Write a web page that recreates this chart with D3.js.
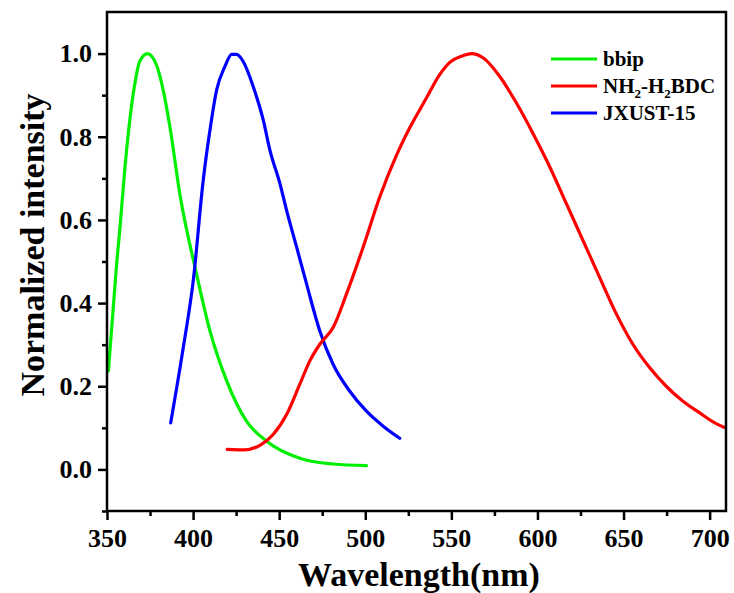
<!DOCTYPE html>
<html>
<head>
<meta charset="utf-8">
<script src="https://cdn.jsdelivr.net/npm/d3@7/dist/d3.min.js"></script>
<style>
  html, body { margin: 0; padding: 0; background: #fff; }
  svg { display: block; }
  text { font-family: "Liberation Serif", "Times New Roman", serif; font-weight: bold; fill: #000; }
</style>
</head>
<body>
<svg id="chart" width="734" height="593"></svg>
<script>
// ---- Data ----
const bbipX = [350.8, 355.6, 357.5, 360.4, 365.3, 369.2, 373.5, 378.8, 383.0, 386.6, 392.4, 402.0, 409.8, 419.5, 431.0, 442.7, 462.0, 481.3, 500.7];
const bbipY = [0.237, 0.494, 0.580, 0.725, 0.905, 0.983, 1.000, 0.972, 0.905, 0.822, 0.660, 0.470, 0.333, 0.213, 0.116, 0.068, 0.027, 0.013, 0.009];

const bdcX = [419.8, 429.1, 438.8, 446.5, 454.3, 462.0, 467.8, 473.6, 481.3, 489.1, 498.8, 508.4, 518.1, 525.9, 535.5, 543.3, 549.1, 556.8, 561.7, 568.4, 578.1, 587.8, 597.4, 607.1, 616.8, 626.4, 636.1, 645.8, 655.4, 665.1, 674.8, 684.5, 694.2, 703.8, 708.7];
const bdcY = [0.048, 0.047, 0.058, 0.084, 0.132, 0.205, 0.261, 0.301, 0.341, 0.422, 0.535, 0.655, 0.755, 0.822, 0.893, 0.950, 0.979, 0.995, 1.000, 0.990, 0.945, 0.881, 0.808, 0.728, 0.639, 0.551, 0.462, 0.374, 0.301, 0.245, 0.200, 0.164, 0.136, 0.110, 0.101];

const jxX = [387.0, 394.3, 400.1, 405.9, 409.8, 413.7, 418.5, 422.4, 425.3, 429.1, 434.9, 440.7, 444.6, 450.4, 454.3, 460.1, 465.9, 473.6, 481.3, 491.0, 500.7, 510.4, 520.0];
const jxY = [0.112, 0.293, 0.454, 0.696, 0.816, 0.913, 0.969, 0.998, 0.998, 0.981, 0.921, 0.841, 0.768, 0.688, 0.623, 0.535, 0.446, 0.333, 0.253, 0.188, 0.140, 0.104, 0.075];

const seriesNames = ["bbip", "NH2-H2BDC", "JXUST-15"];
const seriesColors = ["#00ee00", "#ff0000", "#0000ff"];

const xMajorTicks = [350, 400, 450, 500, 550, 600, 650, 700];
const xMinorTicks = [375, 425, 475, 525, 575, 625, 675];
const yMajorTicks = [0.0, 0.2, 0.4, 0.6, 0.8, 1.0];
const yMinorTicks = [-0.1, 0.1, 0.3, 0.5, 0.7, 0.9];

const xTitle = "Wavelength(nm)";
const yTitle = "Normalized intensity";

// ---- Layout ----
const W = 734, H = 593;
const plot = { left: 107, top: 12, right: 726, bottom: 511 };

const svg = d3.select("#chart");
svg.append("rect").attr("width", W).attr("height", H).attr("fill", "#fff");

const x = d3.scaleLinear().domain([350, 709.5]).range([plot.left, plot.right]);
const y = d3.scaleLinear().domain([-0.1, 1.1]).range([plot.bottom, plot.top]);

// ---- Curves ----
const series = [
  { name: seriesNames[0], color: seriesColors[0], xs: bbipX, ys: bbipY },
  { name: seriesNames[1], color: seriesColors[1], xs: bdcX, ys: bdcY },
  { name: seriesNames[2], color: seriesColors[2], xs: jxX, ys: jxY }
];

const line = d3.line()
  .x(d => x(d[0]))
  .y(d => y(d[1]))
  .curve(d3.curveMonotoneX);

svg.append("clipPath").attr("id", "clip")
  .append("rect").attr("x", plot.left).attr("y", plot.top)
  .attr("width", plot.right - plot.left).attr("height", plot.bottom - plot.top);

const gLines = svg.append("g").attr("clip-path", "url(#clip)");
[series[0], series[2], series[1]].forEach(s => {
  gLines.append("path")
    .datum(s.xs.map((v, i) => [v, s.ys[i]]))
    .attr("fill", "none")
    .attr("stroke", s.color)
    .attr("stroke-width", 3.2)
    .attr("stroke-linejoin", "round")
    .attr("stroke-linecap", "round")
    .attr("d", line);
});

// ---- Axes ----
const axisW = 2.5;
const xAxisMajor = d3.axisBottom(x).tickValues(xMajorTicks).tickSize(9).tickPadding(9).tickFormat(d3.format("d"));
const xAxisMinor = d3.axisBottom(x).tickValues(xMinorTicks).tickSize(5).tickFormat("");
const yAxisMajor = d3.axisLeft(y).tickValues(yMajorTicks).tickSize(9).tickPadding(6).tickFormat(d3.format(".1f"));
const yAxisMinor = d3.axisLeft(y).tickValues(yMinorTicks).tickSize(5).tickFormat("");

function styleAxis(g) {
  g.select(".domain").remove();
  g.selectAll(".tick line").attr("stroke", "#000").attr("stroke-width", axisW);
  g.selectAll(".tick text")
    .style("font-family", "'Liberation Serif', 'Times New Roman', serif")
    .style("font-weight", "bold")
    .style("font-size", "26px")
    .attr("fill", "#000");
}

svg.append("g").attr("transform", `translate(0,${plot.bottom})`).call(xAxisMajor).call(styleAxis);
svg.append("g").attr("transform", `translate(0,${plot.bottom})`).call(xAxisMinor).call(styleAxis);
svg.append("g").attr("transform", `translate(${plot.left},0)`).call(yAxisMajor).call(styleAxis);
svg.append("g").attr("transform", `translate(${plot.left},0)`).call(yAxisMinor).call(styleAxis);

// frame
svg.append("rect")
  .attr("x", plot.left).attr("y", plot.top)
  .attr("width", plot.right - plot.left).attr("height", plot.bottom - plot.top)
  .attr("fill", "none").attr("stroke", "#000").attr("stroke-width", axisW);

// ---- Axis titles ----
svg.append("text")
  .attr("x", 419)
  .attr("y", 586)
  .attr("text-anchor", "middle")
  .style("font-size", "34px")
  .text(xTitle);

svg.append("text")
  .attr("transform", `translate(44,${245}) rotate(-90)`)
  .attr("text-anchor", "middle")
  .style("font-size", "34px")
  .text(yTitle);

// ---- Legend ----
const legend = svg.append("g");
const legendRows = [59, 86, 113];
series.forEach((s, i) => {
  const ly = legendRows[i];
  legend.append("line")
    .attr("x1", 551).attr("x2", 597)
    .attr("y1", ly).attr("y2", ly)
    .attr("stroke", s.color).attr("stroke-width", 3.2);
  const t = legend.append("text")
    .attr("x", 603).attr("y", ly + 7)
    .style("font-size", "21px");
  if (s.name === "NH2-H2BDC") {
    t.append("tspan").text("NH");
    t.append("tspan").text("2").style("font-size", "13px").attr("dy", 5);
    t.append("tspan").text("-H").attr("dy", -5);
    t.append("tspan").text("2").style("font-size", "13px").attr("dy", 5);
    t.append("tspan").text("BDC").attr("dy", -5);
  } else {
    t.text(s.name);
  }
});
</script>
</body>
</html>
